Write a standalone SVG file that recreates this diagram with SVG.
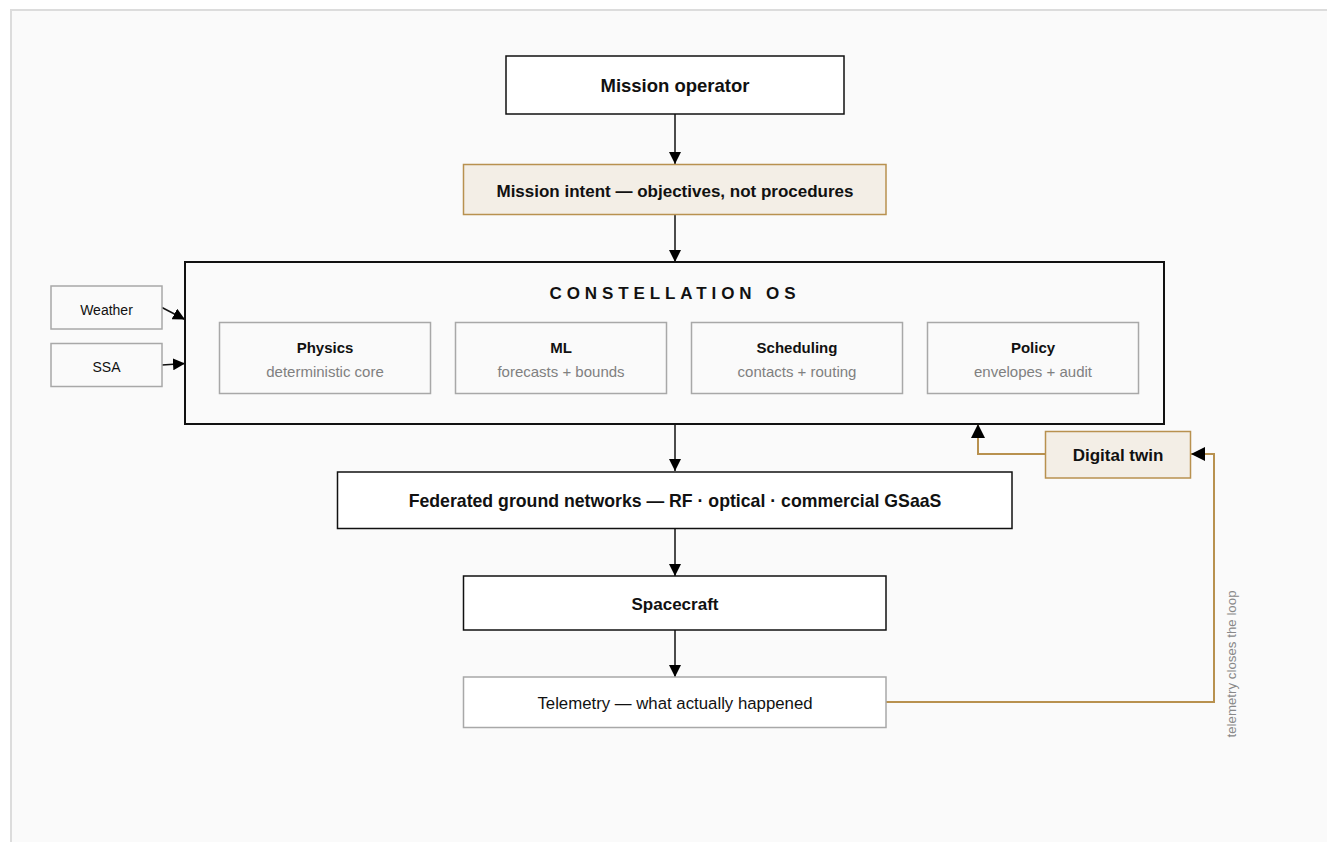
<svg xmlns="http://www.w3.org/2000/svg" width="1327" height="842" viewBox="0 0 1327 842">
  <style>
    text { font-family: "Liberation Sans", Arial, Helvetica, sans-serif; fill: #111; }
    .main { fill: #ffffff; stroke: #111; stroke-width: 1.5; }
    .os { fill: #fafafa; stroke: #111; stroke-width: 2; }
    .accent { fill: #f3eee6; stroke: #b8914f; stroke-width: 1.5; }
    .soft { fill: #fafafa; stroke: #a8a8a8; stroke-width: 1.5; }
    .softw { fill: #ffffff; stroke: #a8a8a8; stroke-width: 1.5; }
    .lbl { font-size: 17px; font-weight: bold; text-anchor: middle; }
    .sub { font-size: 15px; font-weight: bold; text-anchor: middle; }
    .desc { font-size: 15px; fill: #808080; text-anchor: middle; }
    .side { font-size: 14px; text-anchor: middle; }
    .wire { fill: none; stroke: #111; stroke-width: 1.5; }
    .loop { fill: none; stroke: #b8914f; stroke-width: 2; }
  </style>
  <defs>
    <marker id="head" viewBox="0 0 12 12" refX="12" refY="6" markerWidth="12" markerHeight="12" markerUnits="userSpaceOnUse" orient="auto">
      <path d="M0,0 L12,6 L0,12 z" fill="#000"/>
    </marker>
    <marker id="head-lg" viewBox="0 0 14 14" refX="14" refY="7" markerWidth="14" markerHeight="14" markerUnits="userSpaceOnUse" orient="auto">
      <path d="M0,0 L14,7 L0,14 z" fill="#000"/>
    </marker>
  </defs>

  <!-- canvas -->
  <rect x="0" y="0" width="1327" height="842" fill="#ffffff"/>
  <rect x="11" y="10" width="1400" height="900" fill="#fafafa" stroke="#dcdcdc" stroke-width="2"/>

  <!-- connectors -->
  <g id="connectors">
    <line class="wire" x1="675" y1="114" x2="675" y2="164" marker-end="url(#head)"/>
    <line class="wire" x1="675" y1="215" x2="675" y2="262" marker-end="url(#head)"/>
    <line class="wire" x1="675" y1="424" x2="675" y2="471" marker-end="url(#head)"/>
    <line class="wire" x1="675" y1="529" x2="675" y2="576" marker-end="url(#head)"/>
    <line class="wire" x1="675" y1="630" x2="675" y2="677" marker-end="url(#head)"/>
    <line class="wire" x1="162" y1="307.5" x2="185" y2="319.5" marker-end="url(#head)"/>
    <line class="wire" x1="162" y1="365" x2="185" y2="363.5" marker-end="url(#head)"/>
    <polyline class="loop" points="886,702 1214,702 1214,454 1191,454" marker-end="url(#head-lg)"/>
    <polyline class="loop" points="1045,454 978,454 978,424" marker-end="url(#head-lg)"/>
    <text x="1236" y="664" transform="rotate(-90 1236 664)" font-size="13.3" style="fill:#888" text-anchor="middle">telemetry closes the loop</text>
  </g>

  <g id="mission-operator">
    <rect class="main" x="506" y="56" width="338" height="58"/>
    <text class="lbl" x="675" y="92" font-size="18.5" style="font-size:18.5px">Mission operator</text>
  </g>

  <g id="mission-intent">
    <rect class="accent" x="463.5" y="164.5" width="422.5" height="50"/>
    <text class="lbl" x="675" y="197">Mission intent — objectives, not procedures</text>
  </g>

  <g id="constellation-os">
    <rect class="os" x="185" y="262" width="979" height="162"/>
    <text x="675" y="298.5" font-size="17" font-weight="bold" letter-spacing="4.9" text-anchor="middle">CONSTELLATION OS</text>
    <g id="physics">
      <rect class="soft" x="219.5" y="322.5" width="211" height="71"/>
      <text class="sub" x="325" y="353">Physics</text>
      <text class="desc" x="325" y="377">deterministic core</text>
    </g>
    <g id="ml">
      <rect class="soft" x="455.5" y="322.5" width="211" height="71"/>
      <text class="sub" x="561" y="353">ML</text>
      <text class="desc" x="561" y="377">forecasts + bounds</text>
    </g>
    <g id="scheduling">
      <rect class="soft" x="691.5" y="322.5" width="211" height="71"/>
      <text class="sub" x="797" y="353">Scheduling</text>
      <text class="desc" x="797" y="377">contacts + routing</text>
    </g>
    <g id="policy">
      <rect class="soft" x="927.5" y="322.5" width="211" height="71"/>
      <text class="sub" x="1033" y="353">Policy</text>
      <text class="desc" x="1033" y="377">envelopes + audit</text>
    </g>
  </g>

  <g id="weather">
    <rect class="soft" x="51" y="286" width="111" height="43"/>
    <text class="side" x="106.5" y="315">Weather</text>
  </g>

  <g id="ssa">
    <rect class="soft" x="51" y="343.5" width="111" height="43"/>
    <text class="side" x="106.5" y="372">SSA</text>
  </g>

  <g id="digital-twin">
    <rect class="accent" x="1045.5" y="431.5" width="145" height="46.5"/>
    <text x="1118" y="461" font-size="17" font-weight="bold" text-anchor="middle">Digital twin</text>
  </g>

  <g id="ground-networks">
    <rect class="main" x="337.5" y="472" width="674.5" height="56.5"/>
    <text class="lbl" x="675" y="507" style="font-size:17.7px">Federated ground networks — RF · optical · commercial GSaaS</text>
  </g>

  <g id="spacecraft">
    <rect class="main" x="463.5" y="576" width="422.5" height="54"/>
    <text class="lbl" x="675" y="610">Spacecraft</text>
  </g>

  <g id="telemetry">
    <rect class="softw" x="463.5" y="677" width="422.5" height="50.5"/>
    <text x="675" y="709" font-size="16.8" text-anchor="middle">Telemetry — what actually happened</text>
  </g>
</svg>
